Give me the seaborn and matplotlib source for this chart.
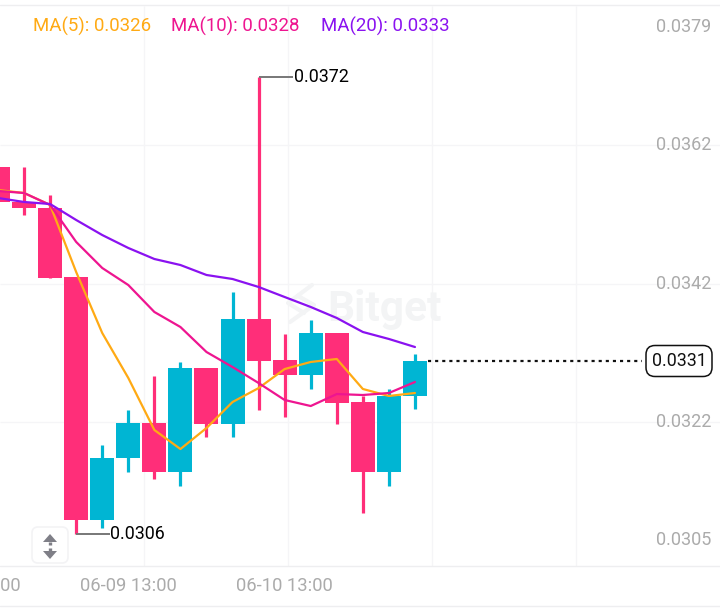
import numpy as np
import pandas as pd
import seaborn as sns
import matplotlib.pyplot as plt
from matplotlib.patches import FancyBboxPatch, Polygon
from matplotlib.transforms import Affine2D, blended_transform_factory

# =========================================================
# DATA (prices)
# =========================================================

opens = [0.035882, 0.035377, 0.035290, 0.034294, 0.030785, 0.031680, 0.032186,
         0.031478, 0.032980, 0.032171, 0.033687, 0.033095, 0.032879, 0.033485,
         0.032489, 0.031478, 0.032576]
closes = [0.035377, 0.035290, 0.034280, 0.030785, 0.031680, 0.032186, 0.031478,
          0.032980, 0.032171, 0.033687, 0.033081, 0.032879, 0.033485, 0.032474,
          0.031478, 0.032576, 0.033085]
highs = [0.035882, 0.035882, 0.035478, 0.034294, 0.031868, 0.032373, 0.032864,
         0.033067, 0.032980, 0.034077, 0.037182, 0.033471, 0.033673, 0.033485,
         0.032576, 0.032677, 0.033182]
lows = [0.035377, 0.035189, 0.034280, 0.030580, 0.030670, 0.031478, 0.031377,
        0.031276, 0.031984, 0.031984, 0.032373, 0.032272, 0.032677, 0.032171,
        0.030886, 0.031276, 0.032388]

ma5 = [0.03555, 0.035507, 0.035334, 0.034366, 0.033485, 0.032836, 0.032085, 0.03181,
       0.032113, 0.032489, 0.03269, 0.032965, 0.033067, 0.03311, 0.032677, 0.032576,
       0.032619]
ma10 = [0.035536, 0.035507, 0.035334, 0.0348, 0.034424, 0.034178, 0.033789, 0.033572,
        0.033211, 0.032994, 0.032763, 0.032518, 0.032431, 0.032604, 0.03259, 0.032619,
        0.032778]
ma20 = [0.035435, 0.035377, 0.035348, 0.035117, 0.0349, 0.034713, 0.034554, 0.034467,
        0.034323, 0.034265, 0.03415, 0.034005, 0.033861, 0.033702, 0.0335, 0.033399,
        0.033283]

price_ticks = [0.0379, 0.0362, 0.0342, 0.0322, 0.0305]
price_grid = [0.0362, 0.0342, 0.0322]
date_labels = ["06-08 13:00", "06-09 13:00", "06-10 13:00"]
date_pos = [-1, 5, 11]

high_label, low_label, last_price = 0.0372, 0.0306, 0.0331
ma_texts = ["MA(5): 0.0326", "MA(10): 0.0328", "MA(20): 0.0333"]

# =========================================================
# STYLE
# =========================================================

sns.set_theme(style="white")
plt.rcParams["font.family"] = ["Roboto", "DejaVu Sans"]

UP = "#00B5D3"
DOWN = "#FF2E79"
GREY = "#ABABAB"
GRID = "#F5F5F7"
MARK = "#F3F4F5"
ma_colors = ["#FFAA14", "#EE1590", "#8A12F0"]

fig = plt.figure(figsize=(7.2, 6.11), dpi=100)
ax = fig.add_axes([0, 45 / 611, 1, 560 / 611])
ax.set_xlim(0.0767, 27.705)
ax.set_ylim(0.030121, 0.038207)
sns.despine(ax=ax, left=True, bottom=True)

# pixel space, for the chrome that is not data
px = Affine2D().scale(1, -1).translate(0, 611)

# =========================================================
# GRID AND WATERMARK
# =========================================================

ax.hlines(price_grid, 0, 1, transform=ax.get_yaxis_transform(), color=GRID, lw=1, zorder=0)
ax.vlines([0.2, 0.4, 0.6, 0.8], 0, 1, transform=ax.transAxes, color=GRID, lw=1, zorder=0)

for y in [5, 566, 606]:
    fig.add_artist(plt.Line2D([0, 720], [y, y], transform=px, color="#EEEEF0", lw=1))

ax.text(327, 310, "Bitget", transform=px, color=MARK, fontsize=30.5, fontweight="bold",
        va="center", ha="left", zorder=0.5)
ax.plot([312, 288, 304], [285, 303, 313], transform=px, color=MARK, lw=3, zorder=0.5)
ax.plot([290, 314, 298], [322, 305, 296], transform=px, color=MARK, lw=3, zorder=0.5)

# =========================================================
# CANDLES
# =========================================================

candles = pd.DataFrame({"open": opens, "close": closes, "high": highs, "low": lows})
candles["idx"] = candles.index
candles["color"] = np.where(candles["close"] >= candles["open"], UP, DOWN)

ax.vlines(candles["idx"], candles["low"], candles["high"], color=candles["color"], lw=2.3, zorder=2)
ax.bar(candles["idx"], (candles["close"] - candles["open"]).abs(),
       bottom=candles[["open", "close"]].min(axis=1), width=0.92,
       color=candles["color"], linewidth=0, zorder=2.5)

# =========================================================
# MOVING AVERAGES
# =========================================================

ma_long = pd.DataFrame({"idx": candles["idx"], "MA5": ma5, "MA10": ma10, "MA20": ma20}).melt(
    "idx", var_name="line", value_name="price")
sns.lineplot(data=ma_long, x="idx", y="price", hue="line", palette=ma_colors, linewidth=1.6,
             legend=False, ax=ax, zorder=3)
ax.set_xlabel("")
ax.set_ylabel("")

for txt, col, x in zip(ma_texts, ma_colors, [33, 171, 321]):
    ax.text(x, 26, txt, transform=px, color=col, fontsize=13.4, va="center", ha="left")

# =========================================================
# AXES LABELS
# =========================================================

ax.yaxis.tick_right()
ax.set_yticks(price_ticks)
ax.set_yticklabels([f"{p:.4f}" for p in price_ticks], color=GREY, fontsize=13, ha="right", va="center")
ax.tick_params(axis="y", length=0, pad=-6)
ax.set_xticks([])

date_tr = blended_transform_factory(ax.transData, px)
for pos, lab in zip(date_pos, date_labels):
    ax.text(pos, 586, lab, transform=date_tr, color=GREY, fontsize=13.2, ha="center", va="center",
            clip_on=False)

# =========================================================
# HIGH / LOW / LAST PRICE MARKERS
# =========================================================

hi_idx = int(np.argmax(highs))
lo_idx = int(np.argmin(lows))
ax.hlines(max(highs), hi_idx, hi_idx + 1.33, color="#777777", lw=1.4, zorder=3)
ax.text(hi_idx + 1.36, max(highs), f"{high_label:.4f}", color="black", fontsize=12.9, va="center", ha="left")
ax.hlines(min(lows), lo_idx, lo_idx + 1.3, color="#777777", lw=1.4, zorder=3)
ax.text(lo_idx + 1.3, min(lows), f"{low_label:.4f}", color="black", fontsize=12.9, va="center", ha="left")

ax.plot([16.5, 24.7], [closes[-1], closes[-1]], color="#111111", lw=1.6, dashes=(1.4, 1.8), zorder=3)
box = FancyBboxPatch((646, 345.5), 66, 31, boxstyle="round,pad=0,rounding_size=9", transform=px,
                     facecolor="white", edgecolor="#111111", lw=1.1, zorder=4)
ax.add_patch(box)
ax.text(679, 361, f"{last_price:.4f}", transform=px, color="#111111", fontsize=12.9, va="center",
        ha="center", zorder=5)

# =========================================================
# SCALE BUTTON
# =========================================================

btn = FancyBboxPatch((32, 527), 36, 36, boxstyle="round,pad=0,rounding_size=6", transform=px,
                     facecolor="white", edgecolor="#F3F3F5", lw=1.2, zorder=4)
ax.add_patch(btn)
for tip, base, stem in [(534, 542, 545), (559, 551, 548)]:
    ax.add_patch(Polygon([(50, tip), (43, base), (57, base)], transform=px, facecolor="#7F7F87",
                         edgecolor="none", zorder=5))
    ax.plot([50, 50], [base, stem], transform=px, color="#7F7F87", lw=2.4, solid_capstyle="butt", zorder=5)

fig.savefig("out.png", dpi=100)
